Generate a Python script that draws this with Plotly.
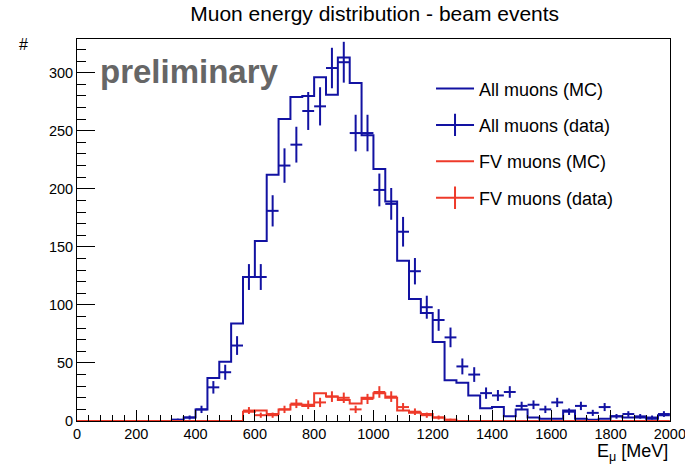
import numpy as np
import plotly.graph_objects as go

# ---- data (40 MeV bins from 0 to 2000 MeV) ----
bin_width = 40
bin_lo = list(range(0, 2000, 40))

all_mc = [0, 0, 0, 0, 0, 0, 0, 0, 1, 3,
          10, 37, 51, 84, 124, 155, 212, 260, 279, 280,
          296, 281, 313, 291, 246, 217, 189, 138, 105, 93,
          68, 35, 33, 22, 11, 12, 4, 10, 3, 2,
          2, 9, 2, 1, 2, 4, 3, 3, 2, 5]
all_data = [0, 0, 0, 0, 0, 0, 0, 0, 1, 3,
            10, 29, 42, 65, 124, 124, 181, 220, 238, 267,
            271, 304, 309, 248, 248, 199, 187, 163, 129, 98,
            87, 72, 47, 40, 24, 22, 25, 13, 14, 10,
            16, 8, 13, 7, 12, 4, 6, 4, 3, 6]
fv_mc = [0, 0, 0, 0, 0, 0, 0, 0, 0, 0,
         0, 0, 0, 0, 8, 9, 6, 10, 14, 13,
         24, 21, 18, 15, 20, 24, 20, 9, 7, 6,
         3, 1, 0, 0, 0, 0, 0, 0, 0, 0,
         0, 0, 0, 0, 0, 0, 0, 0, 0, 0]
fv_data = [0, 0, 0, 0, 0, 0, 0, 0, 0, 0,
           0, 0, 0, 0, 9, 5, 5, 10, 15, 14,
           16, 21, 20, 10, 19, 25, 21, 12, 8, 5,
           3, 1, 0, 0, 0, 0, 0, 0, 0, 0,
           0, 0, 0, 0, 0, 0, 0, 0, 0, 0]

x_ticks = [0, 200, 400, 600, 800, 1000, 1200, 1400, 1600, 1800, 2000]
y_ticks = [0, 50, 100, 150, 200, 250, 300]

BLUE = "#1212a2"
RED = "#ee3a2a"
FONT = "Liberation Sans, Arial, Helvetica, sans-serif"

edges = np.array(bin_lo + [bin_lo[-1] + bin_width])
centers = np.array(bin_lo) + bin_width / 2


def step_trace(vals, color, name):
    y = list(vals) + [vals[-1]]
    return go.Scatter(x=edges, y=y, mode="lines", line=dict(color=color, width=2, shape="hv"),
                      name=name, showlegend=False, hoverinfo="skip")


def data_trace(vals, color, name):
    v = np.array(vals, dtype=float)
    m = v > 0
    return go.Scatter(x=centers[m], y=v[m], mode="markers",
                      marker=dict(size=1, color=color),
                      error_y=dict(type="data", array=np.sqrt(v[m]), thickness=2, width=0, color=color),
                      error_x=dict(type="constant", value=bin_width / 2, thickness=2, width=0, color=color),
                      name=name, showlegend=False)


fig = go.Figure()
fig.add_trace(step_trace(all_mc, BLUE, "All muons (MC)"))
fig.add_trace(data_trace(all_data, BLUE, "All muons (data)"))
fig.add_trace(step_trace(fv_mc, RED, "FV muons (MC)"))
fig.add_trace(data_trace(fv_data, RED, "FV muons (data)"))

# legend entries
for i, (nm, col, isdata) in enumerate([("All muons (MC)", BLUE, False), ("All muons (data)", BLUE, True),
                                       ("FV muons (MC)", RED, False), ("FV muons (data)", RED, True)]):
    if isdata:
        fig.add_trace(go.Scatter(x=[None], y=[None], mode="lines+markers", name=nm, legendgroup=str(i),
                                 line=dict(color=col, width=2),
                                 marker=dict(symbol="line-ns", size=16, color=col, line=dict(color=col, width=2))))
    else:
        fig.add_trace(go.Scatter(x=[None], y=[None], mode="lines", name=nm, legendgroup=str(i),
                                 line=dict(color=col, width=2)))

fig.update_layout(
    width=685, height=468,
    margin=dict(l=77, r=15, t=39, b=47, autoexpand=False),
    paper_bgcolor="white", plot_bgcolor="white",
    font=dict(family=FONT, size=14, color="black"),
    title=dict(text="Muon energy distribution - beam events", x=0.547, xanchor="center",
               y=0.97, yanchor="middle", font=dict(size=21, family=FONT)),
    showlegend=True,
    legend=dict(x=0.597, y=0.918, xanchor="left", yanchor="top", bgcolor="rgba(0,0,0,0)",
                font=dict(size=18, family=FONT), tracegroupgap=10, itemwidth=38),
    xaxis=dict(range=[0, 2000.5], tickvals=x_ticks, ticks="inside", ticklen=11, tickwidth=1,
               tickcolor="black", showgrid=False, zeroline=False, showline=True, linecolor="black",
               linewidth=1, mirror=True, tickfont=dict(size=14.5), ticklabeloverflow="allow",
               automargin=False,
               minor=dict(dtick=40, ticks="inside", ticklen=6, tickcolor="black", showgrid=False)),
    yaxis=dict(range=[0, 329], tickvals=y_ticks, ticks="inside", ticklen=18, tickwidth=1,
               tickcolor="black", showgrid=False, zeroline=False, showline=True, linecolor="black",
               linewidth=1, mirror=True, tickfont=dict(size=14.5), automargin=False,
               minor=dict(dtick=10, ticks="inside", ticklen=9, tickcolor="black", showgrid=False)),
)

fig.add_annotation(text="<b>preliminary</b>", xref="paper", yref="paper", x=0.035, y=0.915,
                   xanchor="left", yanchor="middle", showarrow=False,
                   font=dict(size=33, color="#666666", family=FONT))
fig.add_annotation(text="E<sub>μ</sub> [MeV]", xref="paper", yref="paper", x=1.0, y=-0.117,
                   xanchor="right", yanchor="bottom", showarrow=False, font=dict(size=18, family=FONT))
fig.add_annotation(text="#", xref="paper", yref="paper", x=-0.09, y=0.985,
                   xanchor="center", yanchor="middle", showarrow=False, font=dict(size=16, family=FONT))

fig.write_html("out.html")
